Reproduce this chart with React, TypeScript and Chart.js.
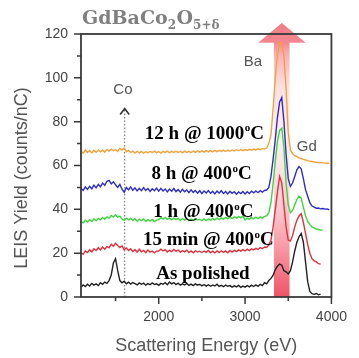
import React, { useEffect, useRef } from 'react';
import { Chart, registerables } from 'chart.js';

Chart.register(...registerables);

// Scattering energy grid (eV)
const energies = [
  1100, 1125, 1150, 1175, 1200, 1225, 1250, 1275, 1300, 1325, 1350, 1375, 1400, 1425, 1450, 1475,
  1500, 1525, 1550, 1575, 1600, 1625, 1650, 1675, 1700, 1725, 1750, 1775, 1800, 1825, 1850, 1875, 1900, 1925, 1950, 1975,
  2000, 2025, 2050, 2075, 2100, 2125, 2150, 2175, 2200, 2225, 2250, 2275, 2300, 2325, 2350, 2375, 2400, 2425, 2450, 2475,
  2500, 2525, 2550, 2575, 2600, 2625, 2650, 2675, 2700, 2725, 2750, 2775, 2800, 2825, 2850, 2875, 2900, 2925, 2950, 2975,
  3000, 3025, 3050, 3075, 3100, 3125, 3150, 3175, 3200, 3225, 3250, 3275, 3300, 3325, 3350, 3375, 3400, 3425, 3450, 3475,
  3500, 3525, 3550, 3575, 3600, 3625, 3650, 3675, 3700, 3725, 3750, 3775, 3800, 3825, 3850, 3875, 3900, 3925, 3950, 3975,
  4000,
];

// LEIS yield (counts/nC), offset spectra
const asPolished = [
  4.5, 5.5, 4.8, 5.8, 5.0, 6.2, 5.4, 6.0, 5.2, 6.5, 5.8, 6.8, 6.2, 7.5, 10, 15.5,
  17.5, 12, 7.5, 6.5, 7.2, 6.0, 6.8, 5.9, 6.6, 6.1, 5.5, 6.4, 5.8, 6.3, 5.4, 6.1, 5.6, 6.4, 5.7, 6.0,
  5.3, 6.2, 5.8, 6.5, 5.6, 6.8, 6.0, 6.6, 5.7, 6.3, 5.4, 6.0, 5.5, 6.2, 5.3, 5.9, 5.2, 6.0, 5.4, 5.8,
  5.1, 5.7, 5.0, 5.6, 4.9, 5.5, 5.0, 5.8, 4.8, 5.3, 4.7, 5.4, 4.9, 5.2, 4.5, 5.1, 4.6, 5.3, 4.4, 5.0,
  4.5, 5.2, 4.6, 5.4, 4.8, 5.5, 4.9, 5.8, 5.2, 6.5, 6.0, 7.5, 8.5, 10, 12.5, 14, 15, 14.5, 12, 11.5,
  10.5, 12, 16, 21, 25, 27.5, 29, 25, 16, 7, 2.5, 1.5, 1.2, 1.6, 1.0, 1.3, null, null, null, null,
  null,
];

const min15At400 = [
  20.2, 19.5, 21, 20.3, 21.5, 20.6, 22, 21.2, 22.5, 21.5, 22.8, 21.8, 23, 22.5, 24, 23.2,
  24.5, 23.5, 22.6, 23.4, 21.5, 22.4, 21.2, 22, 20.8, 21.6, 20.5, 21.8, 20.6, 21.3, 20.2, 21.4, 20.5, 21.0, 20.1, 20.9,
  21.0, 21.8, 21.0, 21.6, 20.5, 21.3, 20.7, 21.7, 20.9, 21.4, 20.4, 21.2, 20.6, 21.4, 20.3, 21.0, 20.2, 21.1, 20.5, 20.9,
  20.3, 21.0, 20.4, 21.2, 20.2, 20.9, 20.1, 21.0, 20.3, 21.1, 20.4, 21.0, 20.2, 21.2, 20.5, 21.3, 20.7, 21.5, 20.9, 21.6,
  21.0, 21.8, 21.2, 22.0, 21.5, 22.2, 21.7, 22.5, 22.0, 22.8, 22.6, 23.8, 26, 32, 40, 48, 55, 52, 42, 32,
  26, 25.5, 28, 32, 35, 37, 38, 34, 29, 24, 20, 17.5, 16.5, 16, 15.2, 15, null, null, null, null,
  null,
];

const h1At400 = [
  34.5, 33.8, 35, 34.2, 35.3, 34.5, 35.6, 34.8, 35.9, 35.2, 36.3, 35.5, 36.6, 36.0, 37.2, 36.5,
  37.5, 36.4, 36.9, 35.6, 35.0, 36.0, 35.2, 35.9, 35.0, 35.7, 34.6, 35.5, 34.8, 35.6, 34.5, 35.3, 34.7, 35.4, 34.4, 35.1,
  35.3, 36.2, 35.5, 36.3, 35.4, 36.1, 35.2, 36.0, 35.3, 35.9, 35.0, 35.8, 35.1, 35.7, 34.9, 35.6, 35.0, 35.8, 35.1, 35.5,
  34.8, 35.6, 34.9, 35.7, 35.0, 35.9, 35.2, 36.0, 35.3, 36.1, 35.5, 36.3, 35.6, 36.4, 35.8, 36.6, 36.0, 36.7, 36.1, 36.9,
  35.2, 36.0, 35.4, 36.2, 35.6, 36.4, 35.8, 36.6, 36.0, 36.8, 37.0, 38.5, 43, 52, 62, 71, 76, 77, 68, 52,
  42, 38.5, 39.5, 42, 44.5, 46, 45, 41, 37, 34.5, 33, 32, 31.5, 31, 30.8, 30.6, 30.5, null, null, null,
  null,
];

const h8At400 = [
  49.5, 48.6, 50.2, 49.1, 50.5, 49.4, 51.0, 49.8, 51.4, 50.3, 52.0, 51.0, 52.8, 53.2, 51.6, 52.6,
  51.2, 50.0, 51.4, 49.2, 47.8, 50.0, 48.9, 50.2, 48.7, 49.8, 48.4, 49.6, 48.5, 49.9, 48.6, 49.5, 48.2, 49.4, 48.5, 49.7,
  48.3, 49.6, 48.4, 49.3, 48.0, 49.2, 48.3, 49.5, 48.1, 49.0, 47.8, 49.1, 48.0, 48.8, 47.6, 48.9, 47.7, 48.6, 47.4, 48.5,
  47.2, 48.4, 47.5, 48.6, 47.3, 48.2, 47.0, 48.3, 47.4, 48.5, 47.2, 48.1, 47.0, 48.2, 47.3, 48.0, 46.9, 47.9, 47.2, 48.1,
  47.0, 48.0, 47.2, 48.3, 47.5, 48.4, 47.6, 48.5, 47.8, 48.6, 48.8, 50.0, 55, 63, 72, 82, 89, 91, 80, 65,
  54, 50.5, 52, 55, 58, 59.5, 58.5, 54, 49, 46, 43, 41.5, 41, 40.5, 40.6, 40.2, 40.4, 40.1, 40.2, 39.8,
  null,
];

const h12At1000 = [
  66.5, 65.6, 67.0, 65.9, 66.8, 65.7, 66.9, 66.0, 67.1, 66.2, 67.0, 66.1, 67.3, 66.5, 67.5, 66.8,
  67.2, 66.4, 67.8, 67.0, 67.9, 66.3, 66.9, 65.9, 66.6, 65.7, 66.5, 65.8, 66.4, 65.6, 66.3, 65.7, 66.5, 65.9, 66.6, 65.8,
  66.4, 65.7, 66.5, 65.9, 66.6, 65.8, 66.5, 65.9, 66.6, 65.9, 66.5, 65.8, 66.6, 66.0, 66.5, 65.9, 66.6, 66.0, 66.7, 66.1,
  66.7, 66.1, 66.8, 66.2, 66.8, 66.2, 66.9, 66.3, 66.9, 66.4, 67.0, 66.4, 67.0, 66.5, 67.1, 66.6, 67.2, 66.7, 67.3, 66.8,
  67.3, 66.9, 67.4, 67.0, 67.5, 67.1, 67.6, 67.2, 67.7, 67.5, 68.0, 70.0, 74, 86, 100, 111, 116, 116, 110, 95,
  75, 67, 65.5, 64.5, 64, 63.5, 63.2, 62.8, 62.5, 62.2, 62, 61.8, 61.6, 61.5, 61.4, 61.3, 61.2, 61.1, 61.0, 61.0,
  null,
];

const seriesValues = [h12At1000, h8At400, h1At400, min15At400, asPolished];
const seriesNames = ['12 h @ 1000ºC', '8 h @ 400ºC', '1 h @ 400ºC', '15 min @ 400ºC', 'As polished'];
const seriesColors = ['#f0a23c', '#2e2ec6', '#3ed43e', '#e0303c', '#222222'];

// In-plot series labels
const labelMain = ['12 h @ 1000', '8 h @ 400', '1 h @ 400', '15 min @ 400', 'As polished'];
const labelSup = ['o', 'o', 'o', 'o', ''];
const labelTail = ['C', 'C', 'C', 'C', ''];
const labelE = [1839, 1916, 1938, 1817, 1971];
const labelV = [72.1, 53.8, 36.5, 23.7, 8.2];

// Element annotations
const elementNames = ['Ba', 'Gd', 'Co'];
const elementE = [3091, 3714, 1585];
const elementV = [107.2, 68.5, 94.5];

// Co marker arrow and Ba highlight arrow (data coordinates)
const coArrowE = 1600;
const coArrowTopV = 86;
const baShaftE = [3335, 3515];
const baHeadE = [3152, 3703];
const baHeadBaseV = 116;
const baTipV = 125;

const xMajorTicks = [2000, 3000, 4000];
const xMinorTicks = [1500, 2500, 3500];
const yMajorTicks = [0, 20, 40, 60, 80, 100, 120];
const yMinorTicks = [10, 30, 50, 70, 90, 110];

const SANS = "'Liberation Sans', Arial, sans-serif";
const SERIF = "'Liberation Serif', 'Times New Roman', serif";

function toPoints(vals: (number | null)[]) {
  const pts: { x: number; y: number }[] = [];
  energies.forEach((e, i) => {
    const v = vals[i];
    if (v !== null && v !== undefined) pts.push({ x: e, y: v });
  });
  return pts;
}

const decorPlugin = {
  id: 'decor',
  beforeDatasetsDraw(chart: any) {
    const { ctx, scales } = chart;
    const x = scales.x;
    const y = scales.y;
    const sl = x.getPixelForValue(baShaftE[0]);
    const sr = x.getPixelForValue(baShaftE[1]);
    const hl = x.getPixelForValue(baHeadE[0]);
    const hr = x.getPixelForValue(baHeadE[1]);
    const tipX = (sl + sr) / 2;
    const tipY = y.getPixelForValue(baTipV);
    const baseY = y.getPixelForValue(baHeadBaseV);
    const bottom = y.getPixelForValue(0);
    const g = ctx.createLinearGradient(0, bottom, 0, tipY);
    g.addColorStop(0, 'rgba(236,60,80,0.88)');
    g.addColorStop(0.14, 'rgba(240,92,108,0.72)');
    g.addColorStop(0.35, 'rgba(246,150,160,0.45)');
    g.addColorStop(0.57, 'rgba(252,210,214,0.35)');
    g.addColorStop(0.76, 'rgba(250,190,196,0.45)');
    g.addColorStop(0.88, 'rgba(244,130,140,0.62)');
    g.addColorStop(0.93, 'rgba(240,100,112,0.78)');
    g.addColorStop(1, 'rgba(238,92,104,0.8)');
    ctx.save();
    ctx.fillStyle = g;
    ctx.beginPath();
    ctx.moveTo(sl, bottom);
    ctx.lineTo(sl, baseY);
    ctx.lineTo(hl, baseY);
    ctx.lineTo(tipX, tipY);
    ctx.lineTo(hr, baseY);
    ctx.lineTo(sr, baseY);
    ctx.lineTo(sr, bottom);
    ctx.closePath();
    ctx.fill();

    // Co dotted arrow
    const cx = x.getPixelForValue(coArrowE);
    const cTop = y.getPixelForValue(coArrowTopV);
    ctx.strokeStyle = '#666';
    ctx.lineWidth = 1;
    ctx.setLineDash([1.5, 2]);
    ctx.beginPath();
    ctx.moveTo(cx + 0.5, bottom);
    ctx.lineTo(cx + 0.5, cTop + 1);
    ctx.stroke();
    ctx.setLineDash([]);
    ctx.strokeStyle = '#333';
    ctx.lineWidth = 1.6;
    ctx.beginPath();
    ctx.moveTo(cx - 4, cTop + 6);
    ctx.lineTo(cx + 0.5, cTop);
    ctx.lineTo(cx + 5, cTop + 6);
    ctx.stroke();
    ctx.restore();
  },
  afterDatasetsDraw(chart: any) {
    const { ctx, chartArea, scales } = chart;
    const x = scales.x;
    const y = scales.y;
    ctx.save();
    // frame
    ctx.strokeStyle = '#3a3a3a';
    ctx.lineWidth = 1.8;
    ctx.strokeRect(chartArea.left, chartArea.top, chartArea.right - chartArea.left, chartArea.bottom - chartArea.top);
    // ticks
    ctx.lineWidth = 1.5;
    ctx.beginPath();
    xMajorTicks.forEach((v) => {
      const px = x.getPixelForValue(v);
      ctx.moveTo(px, chartArea.bottom);
      ctx.lineTo(px, chartArea.bottom + 7);
    });
    xMinorTicks.forEach((v) => {
      const px = x.getPixelForValue(v);
      ctx.moveTo(px, chartArea.bottom);
      ctx.lineTo(px, chartArea.bottom + 4);
    });
    yMajorTicks.forEach((v) => {
      const py = y.getPixelForValue(v);
      ctx.moveTo(chartArea.left, py);
      ctx.lineTo(chartArea.left - 7, py);
    });
    yMinorTicks.forEach((v) => {
      const py = y.getPixelForValue(v);
      ctx.moveTo(chartArea.left, py);
      ctx.lineTo(chartArea.left - 4, py);
    });
    ctx.stroke();

    // series labels
    ctx.fillStyle = '#000';
    ctx.textBaseline = 'alphabetic';
    ctx.textAlign = 'left';
    labelMain.forEach((t, i) => {
      let px = x.getPixelForValue(labelE[i]);
      const py = y.getPixelForValue(labelV[i]);
      ctx.font = `bold 19px ${SERIF}`;
      ctx.fillText(t, px, py);
      px += ctx.measureText(t).width;
      if (labelSup[i]) {
        ctx.font = `bold 11px ${SERIF}`;
        ctx.fillText(labelSup[i], px + 0.5, py - 7.5);
        px += ctx.measureText(labelSup[i]).width + 0.5;
        ctx.font = `bold 19px ${SERIF}`;
        ctx.fillText(labelTail[i], px, py);
      }
    });

    // element labels
    ctx.fillStyle = '#555';
    ctx.font = `15px ${SANS}`;
    ctx.textAlign = 'center';
    ctx.textBaseline = 'middle';
    elementNames.forEach((t, i) => {
      ctx.fillText(t, x.getPixelForValue(elementE[i]), y.getPixelForValue(elementV[i]));
    });

    // axis titles
    ctx.fillStyle = '#555';
    ctx.font = `18px ${SANS}`;
    ctx.fillText('Scattering Energy (eV)', (chartArea.left + chartArea.right) / 2, 346);
    ctx.save();
    ctx.translate(22, 178);
    ctx.rotate(-Math.PI / 2);
    ctx.fillText('LEIS Yield (counts/nC)', 0, 0);
    ctx.restore();

    // chart title: GdBaCo2O5+δ
    ctx.fillStyle = '#808080';
    ctx.textAlign = 'left';
    ctx.textBaseline = 'alphabetic';
    const parts: [string, boolean][] = [['GdBaCo', false], ['2', true], ['O', false], ['5+δ', true]];
    let tx = 82;
    const base = 24;
    parts.forEach(([s, sub]) => {
      ctx.font = sub ? `bold 12px 'DejaVu Serif', serif` : `bold 19px 'DejaVu Serif', serif`;
      ctx.fillText(s, tx, sub ? base + 5 : base);
      tx += ctx.measureText(s).width + (sub ? 0.5 : 0);
    });
    ctx.restore();
  },
};

export default function App() {
  const ref = useRef<HTMLCanvasElement | null>(null);
  useEffect(() => {
    document.body.style.margin = '0';
    if (!ref.current) return;
    const chart = new Chart(ref.current, {
      type: 'line',
      data: {
        datasets: seriesValues.map((vals, i) => ({
          label: seriesNames[i],
          data: toPoints(vals),
          borderColor: seriesColors[i],
          backgroundColor: seriesColors[i],
          borderWidth: 1.4,
          pointRadius: 0,
          fill: false,
          tension: 0,
        })),
      },
      options: {
        animation: false,
        responsive: true,
        maintainAspectRatio: false,
        layout: { padding: { top: 34, right: 15, left: 0, bottom: 0 } },
        plugins: {
          legend: { display: false },
          tooltip: { enabled: false },
          title: { display: false },
        },
        scales: {
          x: {
            type: 'linear',
            min: 1100,
            max: 4000,
            grid: { display: false, drawTicks: false },
            border: { display: false },
            afterBuildTicks: (s: any) => {
              s.ticks = [...xMinorTicks, ...xMajorTicks].sort((a, b) => a - b).map((v) => ({ value: v }));
            },
            ticks: {
              callback: (v: any) => (xMajorTicks.includes(Number(v)) ? String(v) : ''),
              font: { family: SANS, size: 14 },
              color: '#444',
              padding: 12,
              maxRotation: 0,
              autoSkip: false,
            },
            afterFit: (s: any) => {
              s.height = 61;
            },
          },
          y: {
            type: 'linear',
            min: 0,
            max: 120,
            grid: { display: false, drawTicks: false },
            border: { display: false },
            afterBuildTicks: (s: any) => {
              s.ticks = yMajorTicks.map((v) => ({ value: v }));
            },
            ticks: {
              callback: (v: any) => String(v),
              font: { family: SANS, size: 14 },
              color: '#444',
              padding: 13,
              autoSkip: false,
            },
            afterFit: (s: any) => {
              s.width = 81;
            },
          },
        },
      },
      plugins: [decorPlugin],
    } as any);
    return () => chart.destroy();
  }, []);
  return (
    <div style={{ width: 359, height: 358, position: 'relative' }}>
      <canvas ref={ref} />
    </div>
  );
}
